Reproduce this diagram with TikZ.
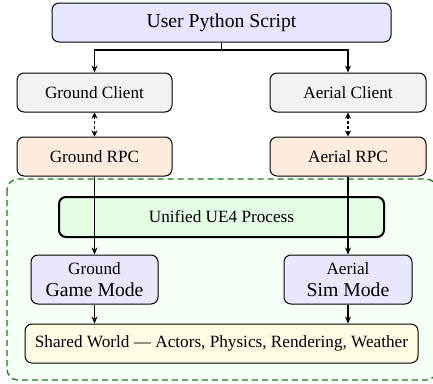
\documentclass[tikz,border=0pt]{standalone}
\usepackage{fontspec}
\setmainfont{Liberation Serif}
\usetikzlibrary{arrows.meta}
\definecolor{userfill}{RGB}{230,230,255}
\definecolor{clientfill}{RGB}{242,242,242}
\definecolor{rpcfill}{RGB}{253,236,222}
\definecolor{contfill}{RGB}{245,255,245}
\definecolor{ue4fill}{RGB}{228,252,228}
\definecolor{modefill}{RGB}{232,232,252}
\definecolor{worldfill}{RGB}{255,252,230}
\definecolor{contline}{RGB}{20,130,20}
\tikzset{
  box/.style={draw=black, line width=1pt, rounded corners=7pt, inner sep=0pt, align=center},
  bigtxt/.style={font=\fontsize{19.7}{22}\selectfont},
  smalltxt/.style={font=\fontsize{17.2}{19}\selectfont},
  arr/.style={-{Stealth[length=7pt,width=6pt]}, line width=1.3pt},
  darr/.style={{Stealth[length=6pt,width=6pt]}-{Stealth[length=6pt,width=6pt]}, line width=1.2pt, dash pattern=on 3pt off 2pt},
  plain/.style={line width=1.3pt}
}
\begin{document}
\begin{tikzpicture}[x=1pt,y=-1pt]
\useasboundingbox (0,0) rectangle (433,383);
% container
\draw[fill=contfill, draw=contline, line width=1.3pt, dash pattern=on 6pt off 4pt, rounded corners=11pt] (7,179) rectangle (437,380);

\node[box, bigtxt, fill=userfill, minimum width=339pt, minimum height=39pt] (user) at (221.5,22.5) {User Python Script};
\node[box, smalltxt, fill=clientfill, minimum width=155pt, minimum height=39pt] (gc) at (94.5,92.5) {Ground Client};
\node[box, smalltxt, fill=clientfill, minimum width=156pt, minimum height=39pt] (ac) at (348,92.5) {Aerial Client};
\node[box, smalltxt, fill=rpcfill, minimum width=155pt, minimum height=39pt] (grpc) at (94.5,156.5) {Ground RPC};
\node[box, smalltxt, fill=rpcfill, minimum width=156pt, minimum height=39pt] (arpc) at (348,156.5) {Aerial RPC};
\node[box, smalltxt, fill=ue4fill, line width=2pt, minimum width=325pt, minimum height=40pt] (ue4) at (221.5,217) {Unified UE4 Process};
\node[box, bigtxt, fill=modefill, minimum width=127pt, minimum height=49pt] (ggm) at (94.5,279.5) {{\fontsize{17.2}{22}\selectfont Ground}\\Game Mode};
\node[box, bigtxt, fill=modefill, minimum width=128pt, minimum height=49pt] (asm) at (348,279.5) {{\fontsize{17.2}{22}\selectfont Aerial}\\Sim Mode};
\node[box, smalltxt, fill=worldfill, minimum width=393pt, minimum height=39pt] (world) at (221.5,343.5) {Shared World --- Actors, Physics, Rendering, Weather};

\coordinate (split) at (221.5,50);
\draw[plain] (user.south) -- (split);
\draw[arr] (split) -| (gc.north);
\draw[arr] (split) -| (ac.north);
\draw[darr] (gc.south) -- (grpc.north);
\draw[darr] (ac.south) -- (arpc.north);
\draw[arr] (grpc.south) -- (ggm.north);
\draw[arr] (arpc.south) -- (arpc.south |- asm.north);
\draw[arr] (ggm.south) -- (ggm.south |- world.north);
\draw[arr] (asm.south) -- (asm.south |- world.north);
\end{tikzpicture}
\end{document}
